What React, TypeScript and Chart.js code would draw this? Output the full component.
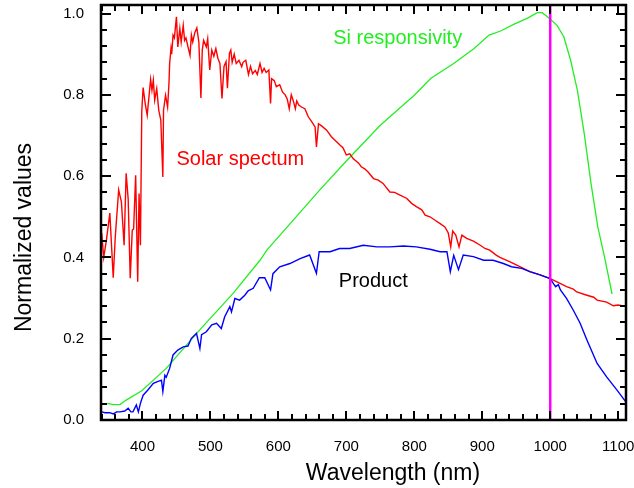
import React, { useEffect, useRef } from "react";
import { Chart, registerables } from "chart.js";

Chart.register(...registerables);

// ---------- data ----------
const solarNm = [
  340, 343, 347, 352, 357, 360, 365, 369, 373, 376, 379, 382, 385, 387, 390, 393, 395, 397, 399,
  401, 404, 407, 410, 412, 414, 416, 418, 421, 424, 427, 430, 431, 434, 437, 439, 440, 442, 443,
  445, 447, 450, 452, 455, 457, 460, 462, 464, 467, 470, 472, 474, 477, 480, 483, 486, 488, 490,
  494, 496, 499, 502, 505, 508, 511, 514, 517, 520, 523, 525, 528, 530, 532, 535, 538, 542, 546,
  548, 552, 556, 559, 562, 566, 569, 573, 576, 579, 582, 586, 588.5, 590, 594, 597, 602, 606, 610,
  613, 616, 619, 622, 625, 627, 630, 634, 639, 644, 649, 654, 656, 659, 664, 671, 678, 686, 691,
  695, 700, 705, 710, 718, 722, 727, 732, 740, 747, 754, 764, 771, 779, 789, 796, 803, 811, 816,
  823, 830, 838, 845, 850, 853.6, 856.5, 861, 865.8, 870, 877, 887, 897, 904, 911, 921, 926, 941,
  956, 970, 985, 1000, 1010, 1024, 1034, 1039, 1054, 1064, 1069, 1083, 1093, 1100, 1112,
];
const solarVal = [
  0.46, 0.4, 0.443, 0.509, 0.35, 0.451, 0.566, 0.537, 0.43, 0.607, 0.543, 0.349, 0.467, 0.47, 0.602,
  0.34, 0.557, 0.43, 0.76, 0.818, 0.779, 0.75, 0.803, 0.838, 0.811, 0.836, 0.787, 0.815, 0.762,
  0.738, 0.598, 0.762, 0.799, 0.77, 0.828, 0.877, 0.914, 0.9, 0.947, 0.94, 0.992, 0.918, 0.963,
  0.93, 0.971, 0.934, 0.94, 0.918, 0.897, 0.947, 0.93, 0.953, 0.965, 0.93, 0.792, 0.91, 0.934,
  0.918, 0.938, 0.861, 0.91, 0.895, 0.914, 0.89, 0.877, 0.791, 0.87, 0.882, 0.816, 0.902, 0.91,
  0.88, 0.9, 0.877, 0.885, 0.869, 0.88, 0.885, 0.85, 0.87, 0.852, 0.86, 0.85, 0.877, 0.855, 0.865,
  0.855, 0.861, 0.779, 0.84, 0.835, 0.82, 0.825, 0.807, 0.8, 0.79, 0.766, 0.8, 0.785, 0.766, 0.785,
  0.775, 0.77, 0.766, 0.746, 0.734, 0.721, 0.672, 0.729, 0.723, 0.713, 0.697, 0.684, 0.676, 0.67,
  0.652, 0.655, 0.643, 0.632, 0.623, 0.618, 0.61, 0.594, 0.59, 0.582, 0.561, 0.56, 0.553, 0.545,
  0.533, 0.525, 0.517, 0.504, 0.5, 0.492, 0.483, 0.475, 0.46, 0.426, 0.465, 0.455, 0.426, 0.455,
  0.447, 0.44, 0.43, 0.422, 0.418, 0.405, 0.4, 0.389, 0.377, 0.365, 0.357, 0.348, 0.34, 0.328,
  0.322, 0.315, 0.307, 0.302, 0.295, 0.29, 0.281, 0.283, 0.279,
];

const siNm = [
  348, 357, 367, 376, 399, 435, 484, 533, 573, 583, 652, 661, 701, 750, 800, 824, 858, 888, 910,
  927, 947, 966, 981, 988, 996, 1010, 1020, 1030, 1040, 1050, 1060, 1070, 1080, 1091,
];
const siVal = [
  0.041, 0.038, 0.038, 0.049, 0.072, 0.127, 0.221, 0.311, 0.393, 0.418, 0.549, 0.566, 0.639, 0.725,
  0.799, 0.84, 0.877, 0.914, 0.947, 0.957, 0.974, 0.988, 1.002, 1.002, 0.992, 0.971, 0.943, 0.885,
  0.811, 0.705, 0.582, 0.475, 0.4, 0.31,
];

const productNm = [
  340, 345, 352, 357, 362, 367, 374, 379, 383, 386, 391, 394, 397, 401, 408, 416, 423, 428, 430,
  433, 435, 440, 445, 452, 460, 467, 472, 479.5, 484.5, 487, 494, 502, 509, 516, 521, 528.6, 531,
  536, 543, 550.6, 555.5, 563, 572, 580, 588.5, 592, 602, 617, 632, 646, 656, 660, 676, 690, 705,
  725, 745, 764, 784, 803, 823, 838, 848, 853, 858, 865, 872, 887, 902, 916, 931, 943, 958, 970,
  985, 1000, 1005, 1008, 1012, 1015, 1024, 1034, 1044, 1054, 1069, 1083, 1098, 1112,
];
const productVal = [
  0.02, 0.018, 0.018, 0.015, 0.02, 0.02, 0.022, 0.029, 0.02, 0.02, 0.037, 0.02, 0.041, 0.061,
  0.074, 0.09, 0.095, 0.098, 0.07, 0.11, 0.105, 0.127, 0.16, 0.172, 0.18, 0.182, 0.201, 0.213,
  0.176, 0.21, 0.217, 0.234, 0.238, 0.225, 0.254, 0.279, 0.266, 0.299, 0.295, 0.307, 0.318, 0.324,
  0.35, 0.35, 0.32, 0.36, 0.377, 0.385, 0.397, 0.406, 0.361, 0.414, 0.414, 0.422, 0.422, 0.43,
  0.426, 0.426, 0.428, 0.426, 0.42, 0.414, 0.414, 0.365, 0.405, 0.37, 0.406, 0.402, 0.393, 0.393,
  0.385, 0.377, 0.373, 0.365, 0.357, 0.348, 0.335, 0.328, 0.333, 0.32, 0.299, 0.27, 0.238, 0.197,
  0.139, 0.106, 0.074, 0.043,
];

const markerNm = 1000;

const xTickValues = [400, 500, 600, 700, 800, 900, 1000, 1100];
const yTickValues = [0, 0.2, 0.4, 0.6, 0.8, 1.0];
const xMinorStep = 20;
const yMinorStep = 0.04;
const X_MIN = 339;
const X_MAX = 1111.5;
const Y_MIN = 0;
const Y_MAX = 1.021;

const xTitle = "Wavelength (nm)";
const yTitle = "Normalized values";

const RED = "#ff0000";
const GREEN = "#22ee22";
const BLUE = "#0000ff";
const MAGENTA = "#ff00ff";

const annotations = [
  { text: "Solar spectum", x: 450, y: 0.628, color: RED },
  { text: "Si responsivity", x: 680.7, y: 0.9245, color: GREEN },
  { text: "Product", x: 689, y: 0.328, color: "#000000" },
];

const FONT = "Arial, 'Liberation Sans', sans-serif";

const zip = (xs: number[], ys: number[]) => xs.map((x, i) => ({ x, y: ys[i] }));

function drawFrame(chart: any) {
  const ctx: CanvasRenderingContext2D = chart.ctx;
  const a = chart.chartArea;
  const xs = chart.scales.x;
  const ys = chart.scales.y;
  ctx.save();
  ctx.strokeStyle = "#000000";
  ctx.lineWidth = 2;
  ctx.beginPath();
  const k0 = Math.ceil(X_MIN / xMinorStep);
  const k1 = Math.floor(X_MAX / xMinorStep);
  for (let k = k0; k <= k1; k++) {
    const px = Math.round(xs.getPixelForValue(k * xMinorStep));
    const len = k % 5 === 0 ? 9 : 6;
    ctx.moveTo(px, a.bottom);
    ctx.lineTo(px, a.bottom - len);
    ctx.moveTo(px, a.top);
    ctx.lineTo(px, a.top + len);
  }
  const j0 = Math.ceil(Y_MIN / yMinorStep - 1e-9);
  const j1 = Math.floor(Y_MAX / yMinorStep + 1e-9);
  for (let j = j0; j <= j1; j++) {
    const py = Math.round(ys.getPixelForValue(j * yMinorStep));
    const len = j % 5 === 0 ? 10 : 6;
    ctx.moveTo(a.left, py);
    ctx.lineTo(a.left + len, py);
    ctx.moveTo(a.right, py);
    ctx.lineTo(a.right - len, py);
  }
  ctx.stroke();
  ctx.lineWidth = 2.5;
  ctx.strokeRect(a.left, a.top, a.right - a.left, a.bottom - a.top);
  ctx.restore();
}

function drawTexts(chart: any) {
  const ctx: CanvasRenderingContext2D = chart.ctx;
  const a = chart.chartArea;
  const xs = chart.scales.x;
  const ys = chart.scales.y;
  ctx.save();
  ctx.font = `20px ${FONT}`;
  ctx.textAlign = "left";
  ctx.textBaseline = "alphabetic";
  for (const an of annotations) {
    ctx.fillStyle = an.color;
    ctx.fillText(an.text, xs.getPixelForValue(an.x), ys.getPixelForValue(an.y));
  }
  ctx.fillStyle = "#000000";
  ctx.font = `23px ${FONT}`;
  ctx.textAlign = "center";
  ctx.fillText(xTitle, a.left + 292, a.bottom + 60);
  ctx.translate(a.left - 70, a.top + 232.5);
  ctx.rotate(-Math.PI / 2);
  ctx.fillText(yTitle, 0, 0);
  ctx.restore();
}

const framePlugin = {
  id: "frameTicks",
  afterDraw(chart: any) {
    try {
      drawFrame(chart);
    } catch (e: any) {
      const ctx = chart.ctx;
      ctx.fillStyle = "#888";
      ctx.font = "10px Arial";
      ctx.fillText("ERR " + String(e && e.message), 2, 486);
    }
    drawTexts(chart);
  },
};

export default function App() {
  const ref = useRef<HTMLCanvasElement | null>(null);

  useEffect(() => {
    if (!ref.current) return;
    const chart = new Chart(ref.current, {
      type: "line",
      data: {
        datasets: [
          {
            label: "marker",
            data: [
              { x: markerNm, y: Y_MIN },
              { x: markerNm, y: Y_MAX },
            ],
            borderColor: MAGENTA,
            borderWidth: 2.5,
            pointRadius: 0,
            order: 0,
          },
          {
            label: "Product",
            data: zip(productNm, productVal),
            borderColor: BLUE,
            borderWidth: 1.4,
            pointRadius: 0,
            order: 1,
          },
          {
            label: "Solar spectum",
            data: zip(solarNm, solarVal),
            borderColor: RED,
            borderWidth: 1.4,
            pointRadius: 0,
            order: 2,
          },
          {
            label: "Si responsivity",
            data: zip(siNm, siVal),
            borderColor: GREEN,
            borderWidth: 1.3,
            pointRadius: 0,
            order: 3,
          },
        ],
      },
      options: {
        responsive: false,
        animation: false,
        devicePixelRatio: 1,
        layout: { padding: { left: 0, top: 5, right: 8, bottom: 0 } },
        plugins: { legend: { display: false }, tooltip: { enabled: false } },
        elements: { line: { tension: 0 } },
        scales: {
          x: {
            type: "linear",
            min: X_MIN,
            max: X_MAX,
            grid: { display: false },
            border: { display: false },
            afterBuildTicks: (s: any) => {
              s.ticks = xTickValues.map((v) => ({ value: v }));
            },
            afterFit: (s: any) => {
              s.height = 68;
              s.paddingLeft = 0;
              s.paddingRight = 0;
            },
            ticks: {
              padding: 10,
              color: "#000",
              font: { family: FONT, size: 15 },
              callback: (v: any) => String(v),
              maxRotation: 0,
              autoSkip: false,
            },
          },
          y: {
            type: "linear",
            min: Y_MIN,
            max: Y_MAX,
            grid: { display: false },
            border: { display: false },
            afterBuildTicks: (s: any) => {
              s.ticks = yTickValues.map((v) => ({ value: v }));
            },
            afterFit: (s: any) => {
              s.width = 101;
              s.paddingTop = 0;
              s.paddingBottom = 0;
            },
            ticks: {
              padding: 9,
              color: "#000",
              font: { family: FONT, size: 15 },
              callback: (v: any) => Number(v).toFixed(1),
              autoSkip: false,
            },
          },
        },
      },
      plugins: [framePlugin],
    });
    return () => chart.destroy();
  }, []);

  return (
    <div style={{ position: "fixed", left: 0, top: 0, width: 634, height: 488, background: "#fff" }}>
      <canvas ref={ref} width={634} height={488} style={{ display: "block" }} />
    </div>
  );
}
